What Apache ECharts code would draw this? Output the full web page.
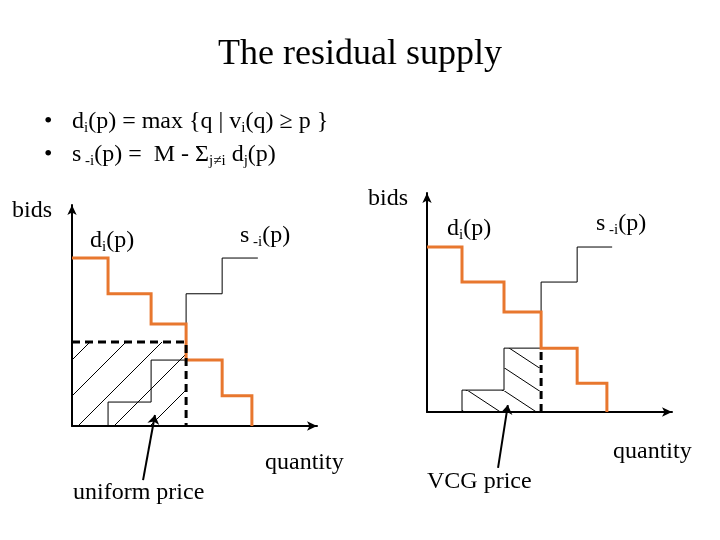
<!DOCTYPE html>
<html>
<head>
<meta charset="utf-8">
<script src="https://cdn.jsdelivr.net/npm/echarts@6/dist/echarts.min.js"></script>
<style>
  html, body { margin: 0; padding: 0; background: #fff; }
  #chart { width: 720px; height: 540px; }
</style>
</head>
<body>
<div id="chart"></div>
<script>
// left panel: uniform price
const demandEdgesL = [0, 1.03, 2.26, 3.26, 4.29, 5.14]
const demandLevelsL = [4.56, 3.59, 2.77, 1.79, 0.82]
const supplyEdgesL = [1.03, 2.26, 3.26, 4.29, 5.31]
const supplyLevelsL = [0.65, 1.79, 3.59, 4.56]
const uniformPrice = 2.28
const clearQtyL = 3.26
const arrowL = [[2.03, -1.47], [2.37, 0.3]]

// right panel: VCG price
const demandEdgesR = [0, 1.0, 2.2, 3.26, 4.29, 5.14]
const demandLevelsR = [4.52, 3.56, 2.74, 1.75, 0.79]
const supplyEdgesR = [1.0, 2.2, 3.26, 4.29, 5.29]
const supplyLevelsR = [0.6, 1.75, 3.56, 4.52]
const clearQtyR = 3.26
const arrowR = [[2.03, -1.53], [2.31, 0.19]]

const FONT = 'Liberation Serif'
const ORANGE = '#E8772E'

// step paths
const demandPath = (edges, levels) => {
  const pts = []
  levels.forEach((lv, i) => { pts.push([edges[i], lv], [edges[i + 1], lv]) })
  pts.push([edges[edges.length - 1], 0])
  return pts
}
const supplyPath = (edges, levels) => {
  const pts = [[edges[0], 0]]
  levels.forEach((lv, i) => { pts.push([edges[i], lv], [edges[i + 1], lv]) })
  return pts
}

// hatch patterns
const makeHatch = (w, h, dir) => {
  const c = document.createElement('canvas')
  c.width = w
  c.height = h
  const ctx = c.getContext('2d')
  ctx.strokeStyle = '#000'
  ctx.lineWidth = 1
  ctx.beginPath()
  if (dir === 'up') {
    ctx.moveTo(-1, h + 1); ctx.lineTo(w + 1, -1)
  } else {
    ctx.moveTo(-1, -1); ctx.lineTo(w + 1, h + 1)
  }
  ctx.stroke()
  return { image: c, repeat: 'repeat' }
}
const hatchUp = makeHatch(36, 36, 'up')
const hatchDown = makeHatch(36, 23, 'down')

const hatchLeft = [[0, clearQtyL, uniformPrice]]
const hatchRight = supplyLevelsR
  .map((lv, i) => [supplyEdgesR[i], supplyEdgesR[i + 1], lv])
  .filter(r => r[1] <= clearQtyR)

const hatchSeries = (data, idx, pattern) => ({
  type: 'custom',
  xAxisIndex: idx,
  yAxisIndex: idx,
  z: 1,
  silent: true,
  data: data,
  renderItem: (params, api) => {
    const p0 = api.coord([api.value(0), api.value(2)])
    const p1 = api.coord([api.value(1), 0])
    return {
      type: 'rect',
      shape: { x: p0[0], y: p0[1], width: p1[0] - p0[0], height: p1[1] - p0[1] },
      style: { fill: pattern, stroke: null }
    }
  }
})

const stepLine = (data, idx, color, width, dashed) => ({
  type: 'line',
  xAxisIndex: idx,
  yAxisIndex: idx,
  data: data,
  showSymbol: false,
  symbol: 'none',
  silent: true,
  z: dashed ? 4 : 3,
  lineStyle: { color: color, width: width, type: dashed ? [8, 5] : 'solid', cap: 'butt', join: 'miter' },
  animation: false
})

const arrowSeries = (coords, idx) => ({
  type: 'lines',
  coordinateSystem: 'cartesian2d',
  xAxisIndex: idx,
  yAxisIndex: idx,
  clip: false,
  silent: true,
  symbol: ['none', 'arrow'],
  symbolSize: 9,
  lineStyle: { color: '#000', width: 2, opacity: 1 },
  data: [{ coords: coords }]
})

const axisCommon = {
  type: 'value',
  min: 0,
  axisLine: {
    show: true,
    symbol: ['none', 'arrow'],
    symbolSize: [7, 10],
    lineStyle: { color: '#000', width: 2 }
  },
  axisTick: { show: false },
  axisLabel: { show: false },
  splitLine: { show: false }
}

const rich = {
  n: { fontFamily: FONT, fontSize: 24, color: '#000', lineHeight: 28 },
  s: { fontFamily: FONT, fontSize: 15, color: '#000', lineHeight: 15, verticalAlign: 'bottom' },
  b: { fontFamily: FONT, fontSize: 24, color: '#000', lineHeight: 28 },
  bs: { fontFamily: FONT, fontSize: 15, color: '#000', lineHeight: 15, verticalAlign: 'bottom' }
}

const label = (x, y, text, size) => ({
  type: 'text',
  x: x,
  y: y,
  silent: true,
  style: {
    text: text, rich: rich, verticalAlign: 'middle', align: 'left',
    fontFamily: FONT, fontSize: size || 24, fill: '#000'
  }
})

const chart = echarts.init(document.getElementById('chart'))

const option = {
  backgroundColor: '#fff',
  animation: false,
  grid: [
    { left: 72, top: 205, width: 245, height: 221 },
    { left: 427, top: 193, width: 245, height: 219 }
  ],
  xAxis: [
    Object.assign({}, axisCommon, { gridIndex: 0, max: 7 }),
    Object.assign({}, axisCommon, { gridIndex: 1, max: 7 })
  ],
  yAxis: [
    Object.assign({}, axisCommon, { gridIndex: 0, max: 6 }),
    Object.assign({}, axisCommon, { gridIndex: 1, max: 6 })
  ],
  graphic: [
    {
      type: 'text', x: 360, y: 55, silent: true,
      style: { text: 'The residual supply', fontFamily: FONT, fontSize: 36, fill: '#000', align: 'center', verticalAlign: 'middle' }
    },
    label(44, 122, '{b|•}'),
    label(72, 122, '{b|d}{bs|i}{b|(p) = max {q | v}{bs|i}{b|(q) ≥ p }}'),
    label(44, 155, '{b|•}'),
    label(72, 155, '{b|s}{bs| -i}{b|(p) =  M - Σ}{bs|j≠i}{b| d}{bs|j}{b|(p)}'),
    label(12, 211, '{n|bids}'),
    label(368, 199, '{n|bids}'),
    label(90, 241, '{n|d}{s|i}{n|(p)}'),
    label(240, 236, '{n|s}{s| -i}{n|(p)}'),
    label(447, 229, '{n|d}{s|i}{n|(p)}'),
    label(596, 224, '{n|s}{s| -i}{n|(p)}'),
    label(265, 463, '{n|quantity}'),
    label(613, 452, '{n|quantity}'),
    label(73, 493, '{n|uniform price}'),
    label(427, 482, '{n|VCG price}')
  ],
  series: [
    hatchSeries(hatchLeft, 0, hatchUp),
    hatchSeries(hatchRight, 1, hatchDown),
    stepLine(supplyPath(supplyEdgesL, supplyLevelsL), 0, '#000', 1, false),
    stepLine(demandPath(demandEdgesL, demandLevelsL), 0, ORANGE, 3, false),
    stepLine([[0, uniformPrice], [clearQtyL, uniformPrice], [clearQtyL, 0]], 0, '#000', 3, true),
    stepLine(supplyPath(supplyEdgesR, supplyLevelsR), 1, '#000', 1, false),
    stepLine(demandPath(demandEdgesR, demandLevelsR), 1, ORANGE, 3, false),
    stepLine([[clearQtyR, 0], [clearQtyR, demandLevelsR[3]]], 1, '#000', 3, true),
    arrowSeries(arrowL, 0),
    arrowSeries(arrowR, 1)
  ]
}

chart.setOption(option)
</script>
</body>
</html>
